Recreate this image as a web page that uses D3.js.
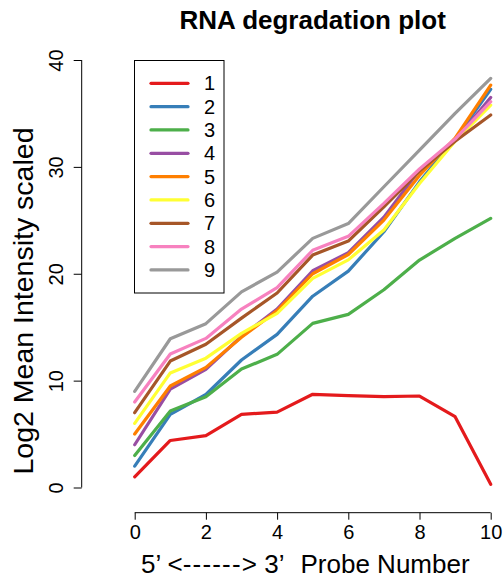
<!DOCTYPE html>
<html>
<head>
<meta charset="utf-8">
<script src="https://cdn.jsdelivr.net/npm/d3@7"></script>
<style>
  html, body { margin: 0; padding: 0; background: #ffffff; }
  svg { display: block; font-family: "Liberation Sans", Arial, Helvetica, sans-serif; }
</style>
</head>
<body>
<svg id="chart" width="503" height="579"></svg>
<script>
// Probe positions along the transcript (5' -> 3')
const probes = [0, 1, 2, 3, 4, 5, 6, 7, 8, 9, 10];

// Array names, one line each
const arrays = ["1", "2", "3", "4", "5", "6", "7", "8", "9"];

// Shifted and scaled mean log2 intensities per array
const s1 = [1.0, 4.4, 4.85, 6.85, 7.05, 8.72, 8.6, 8.5, 8.56, 6.63, 0.3];
const s2 = [2.0, 6.85, 8.7, 11.93, 14.33, 17.9, 20.25, 23.93, 28.6, 32.6, 37.25];
const s3 = [3.0, 7.15, 8.5, 11.08, 12.46, 15.36, 16.2, 18.5, 21.28, 23.3, 25.18];
const s4 = [4.0, 9.2, 11.05, 14.15, 16.7, 20.28, 21.97, 25.3, 29.7, 32.5, 36.5];
const s5 = [5.0, 9.5, 11.24, 14.05, 16.55, 20.0, 21.8, 25.02, 29.2, 32.7, 37.65];
const s6 = [6.0, 10.72, 12.1, 14.42, 16.3, 19.57, 21.3, 24.09, 28.45, 32.4, 35.78];
const s7 = [7.0, 11.83, 13.4, 15.85, 18.2, 21.75, 23.06, 26.27, 29.6, 32.4, 34.85];
const s8 = [8.0, 12.49, 13.95, 16.7, 18.7, 22.2, 23.5, 26.58, 29.8, 32.6, 36.1];
const s9 = [9.0, 13.92, 15.33, 18.3, 20.16, 23.31, 24.7, 28.14, 31.57, 35.0, 38.28];
const seriesValues = [s1, s2, s3, s4, s5, s6, s7, s8, s9];

// Axis tick values
const xTicks = [0, 2, 4, 6, 8, 10];
const yTicks = [0, 10, 20, 30, 40];

const colors = ["#E41A1C", "#377EB8", "#4DAF4A", "#984EA3", "#FF7F00",
                "#FFFF33", "#A65628", "#F781BF", "#999999"];

const svg = d3.select("#chart");

const x = d3.scaleLinear().domain([0, 10]).range([134.7, 490.7]);
const y = d3.scaleLinear().domain([0, 40]).range([487.5, 60]);

const line = d3.line()
  .x((d, i) => x(probes[i]))
  .y(d => y(d));

// Title
svg.append("text")
  .attr("x", 312.7).attr("y", 29)
  .attr("text-anchor", "middle")
  .attr("font-weight", "bold")
  .attr("font-size", 26)
  .text("RNA degradation plot");

// Data lines, array 1 first so later arrays sit on top
svg.append("g").selectAll("path")
  .data(seriesValues)
  .join("path")
  .attr("d", d => line(d))
  .attr("fill", "none")
  .attr("stroke", (d, i) => colors[i])
  .attr("stroke-width", 3.2)
  .attr("stroke-linecap", "round")
  .attr("stroke-linejoin", "round");

// Bottom axis
const xAxis = d3.axisBottom(x).tickValues(xTicks).tickSize(7).tickPadding(5)
  .tickFormat(d3.format("d"));
const gx = svg.append("g").attr("transform", "translate(0,512.7)").call(xAxis);
gx.select(".domain").attr("d", `M${x(0)},0H${x(10)}`).attr("stroke", "#000").attr("stroke-width", 1);
gx.selectAll(".tick line").attr("stroke", "#000");
gx.selectAll(".tick text").attr("font-size", 20).attr("fill", "#000")
  .attr("font-family", "Liberation Sans, Arial, sans-serif");

// Left axis with rotated labels
const yAxis = d3.axisLeft(y).tickValues(yTicks).tickSize(8).tickFormat(d3.format("d"));
const gy = svg.append("g").attr("transform", "translate(81.7,0)").call(yAxis);
gy.select(".domain").attr("d", `M0,${y(0)}V${y(40)}`).attr("stroke", "#000").attr("stroke-width", 1);
gy.selectAll(".tick line").attr("stroke", "#000");
gy.selectAll(".tick text")
  .attr("font-size", 20).attr("fill", "#000")
  .attr("font-family", "Liberation Sans, Arial, sans-serif")
  .attr("x", null).attr("dy", null)
  .attr("text-anchor", "middle")
  .attr("transform", "translate(-18.5,0) rotate(-90)");

// Axis titles
const xt = svg.append("text")
  .attr("x", 141).attr("y", 573)
  .attr("font-size", 26);
xt.append("tspan").text("5\u2019 <");
xt.append("tspan").attr("letter-spacing", 1.2).text("------");
xt.append("tspan").text("> 3\u2019");
xt.append("tspan").attr("dx", 16).text("Probe Number");

svg.append("text")
  .attr("transform", "translate(33,301) rotate(-90)")
  .attr("text-anchor", "middle")
  .attr("font-size", 28.5)
  .text("Log2 Mean Intensity scaled");

// Legend
const legend = svg.append("g");
legend.append("rect")
  .attr("x", 134.5).attr("y", 60.5).attr("width", 89.5).attr("height", 232.5)
  .attr("fill", "#fff").attr("stroke", "#000").attr("stroke-width", 1);
const rows = legend.selectAll("g.row")
  .data(arrays)
  .join("g")
  .attr("class", "row")
  .attr("transform", (d, i) => `translate(0,${83.3 + 23.33 * i})`);
rows.append("line")
  .attr("x1", 151).attr("x2", 188)
  .attr("stroke", (d, i) => colors[i])
  .attr("stroke-width", 3.2)
  .attr("stroke-linecap", "round");
rows.append("text")
  .attr("x", 204).attr("y", 7)
  .attr("font-size", 20)
  .text(d => d);
</script>
</body>
</html>
